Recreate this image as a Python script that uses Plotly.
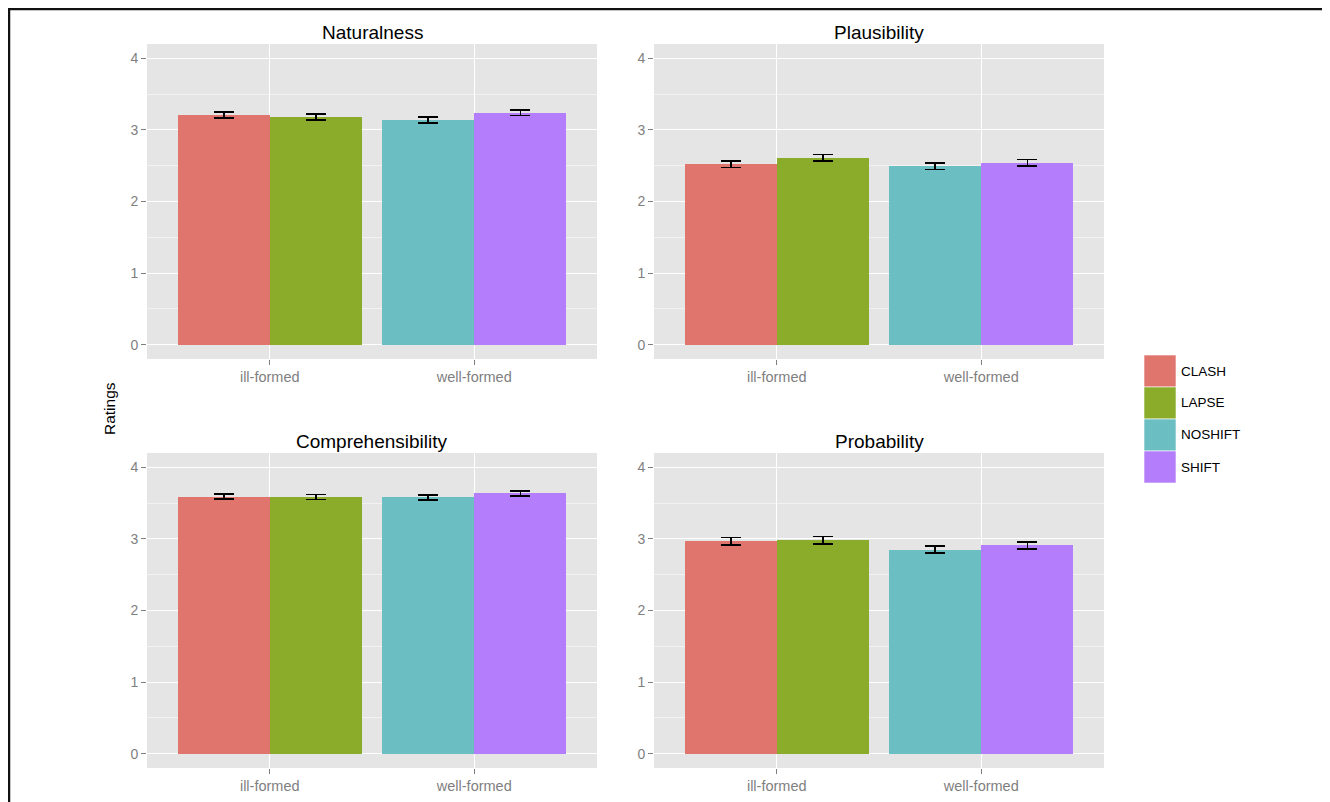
import plotly.graph_objects as go

# ---------------- data ----------------
panels = ["Naturalness", "Plausibility", "Comprehensibility", "Probability"]
groups = ["ill-formed", "well-formed"]
conditions = ["CLASH", "LAPSE", "NOSHIFT", "SHIFT"]
condition_group = ["ill-formed", "ill-formed", "well-formed", "well-formed"]
colors = ["#E0756E", "#8BAC2A", "#6BBEC2", "#B47DFB"]

naturalness = [3.21, 3.18, 3.14, 3.24]
naturalness_se = [0.04, 0.04, 0.04, 0.04]
plausibility = [2.52, 2.61, 2.49, 2.54]
plausibility_se = [0.046, 0.046, 0.045, 0.046]
comprehensibility = [3.59, 3.585, 3.58, 3.635]
comprehensibility_se = [0.035, 0.035, 0.035, 0.035]
probability = [2.965, 2.98, 2.85, 2.91]
probability_se = [0.052, 0.052, 0.05, 0.05]

values = [naturalness, plausibility, comprehensibility, probability]
errors = [naturalness_se, plausibility_se, comprehensibility_se, probability_se]

y_ticks = [0, 1, 2, 3, 4]

# ---------------- layout helpers ----------------
OFF = 8                      # page body margin
W, H = 1330 - OFF, 802 - OFF
FONT = "Liberation Sans, Arial, Helvetica, sans-serif"
TICK_GREY = "#7F7F7F"
PANEL_BG = "#E5E5E5"

# panel boxes in page pixels: (left, right, top, bottom)
boxes = [(147, 597, 44, 359), (654, 1104, 44, 359),
         (147, 597, 453, 768), (654, 1104, 453, 768)]


def px_x(x):
    return (x - OFF) / W


def px_y(y):
    return 1 - (y - OFF) / H


fig = go.Figure()

bar_w = 0.45
for p, (name, vals, errs) in enumerate(zip(panels, values, errors)):
    ax = "" if p == 0 else str(p + 1)
    seen = {}
    for i, cond in enumerate(conditions):
        g = condition_group[i]
        k = seen.get(g, 0)
        seen[g] = k + 1
        fig.add_trace(go.Bar(
            x=[g], y=[vals[i]], name=cond,
            width=bar_w, offset=-bar_w + k * bar_w,
            marker=dict(color=colors[i], line=dict(width=0)),
            error_y=dict(type="data", array=[errs[i]], visible=True,
                         color="black", thickness=1.6, width=10),
            xaxis="x" + ax, yaxis="y" + ax,
            showlegend=False,
        ))

    l, r, t, b = boxes[p]
    xa = dict(domain=[px_x(l), px_x(r)], anchor="y" + ax,
              type="category", categoryorder="array", categoryarray=groups,
              range=[-0.6, 1.6], showgrid=True, gridcolor="white", gridwidth=1.3,
              ticks="outside", ticklen=5, tickcolor=TICK_GREY, tickwidth=1,
              tickfont=dict(family=FONT, size=14.5, color=TICK_GREY),
              showline=False, zeroline=False, fixedrange=True)
    ya = dict(domain=[px_y(b), px_y(t)], anchor="x" + ax,
              range=[-0.2, 4.2], tickvals=y_ticks,
              showgrid=True, gridcolor="white", gridwidth=1.3,
              minor=dict(dtick=0.5, tick0=0, showgrid=True, gridcolor="#F2F2F2",
                         gridwidth=0.8, ticks=""),
              ticks="outside", ticklen=5, tickcolor=TICK_GREY, tickwidth=1,
              tickfont=dict(family=FONT, size=14, color=TICK_GREY),
              showline=False, zeroline=False, fixedrange=True)
    fig.layout["xaxis" + ax] = xa
    fig.layout["yaxis" + ax] = ya

annotations = []
for p, name in enumerate(panels):
    l, r, t, b = boxes[p]
    annotations.append(dict(
        text=name, x=px_x((l + r) / 2), y=px_y(t + 1), xref="paper", yref="paper",
        xanchor="center", yanchor="bottom", showarrow=False,
        font=dict(family=FONT, size=19, color="black")))

annotations.append(dict(
    text="Ratings", x=px_x(109), y=px_y(409), xref="paper", yref="paper",
    xanchor="center", yanchor="middle", textangle=-90, showarrow=False,
    font=dict(family=FONT, size=15.5, color="black")))

shapes = []
# manual legend
key_l, key_r, key_top, key_h = 1144, 1176, 355, 32
for i, cond in enumerate(conditions):
    y0 = key_top + i * key_h
    shapes.append(dict(type="rect", xref="paper", yref="paper",
                       x0=px_x(key_l), x1=px_x(key_r), y0=px_y(y0 + key_h), y1=px_y(y0),
                       fillcolor=colors[i], line=dict(width=0.6, color="white")))
    annotations.append(dict(
        text=cond, x=px_x(key_r + 3), y=px_y(y0 + key_h / 2), xref="paper", yref="paper",
        xanchor="left", yanchor="middle", showarrow=False,
        font=dict(family=FONT, size=13.5, color="black")))

# frame lines (top and left) of the original figure
shapes.append(dict(type="line", xref="paper", yref="paper",
                   x0=0, x1=1, y0=1, y1=1,
                   line=dict(color="#111111", width=4.5)))
shapes.append(dict(type="line", xref="paper", yref="paper",
                   x0=0, x1=0, y0=1, y1=0,
                   line=dict(color="#111111", width=4.5)))

fig.update_layout(
    width=W, height=H,
    margin=dict(l=0, r=0, t=0, b=0),
    paper_bgcolor="white", plot_bgcolor=PANEL_BG,
    barmode="overlay", bargap=0,
    showlegend=False,
    annotations=annotations, shapes=shapes,
    font=dict(family=FONT),
)

fig.write_html("out.html")
